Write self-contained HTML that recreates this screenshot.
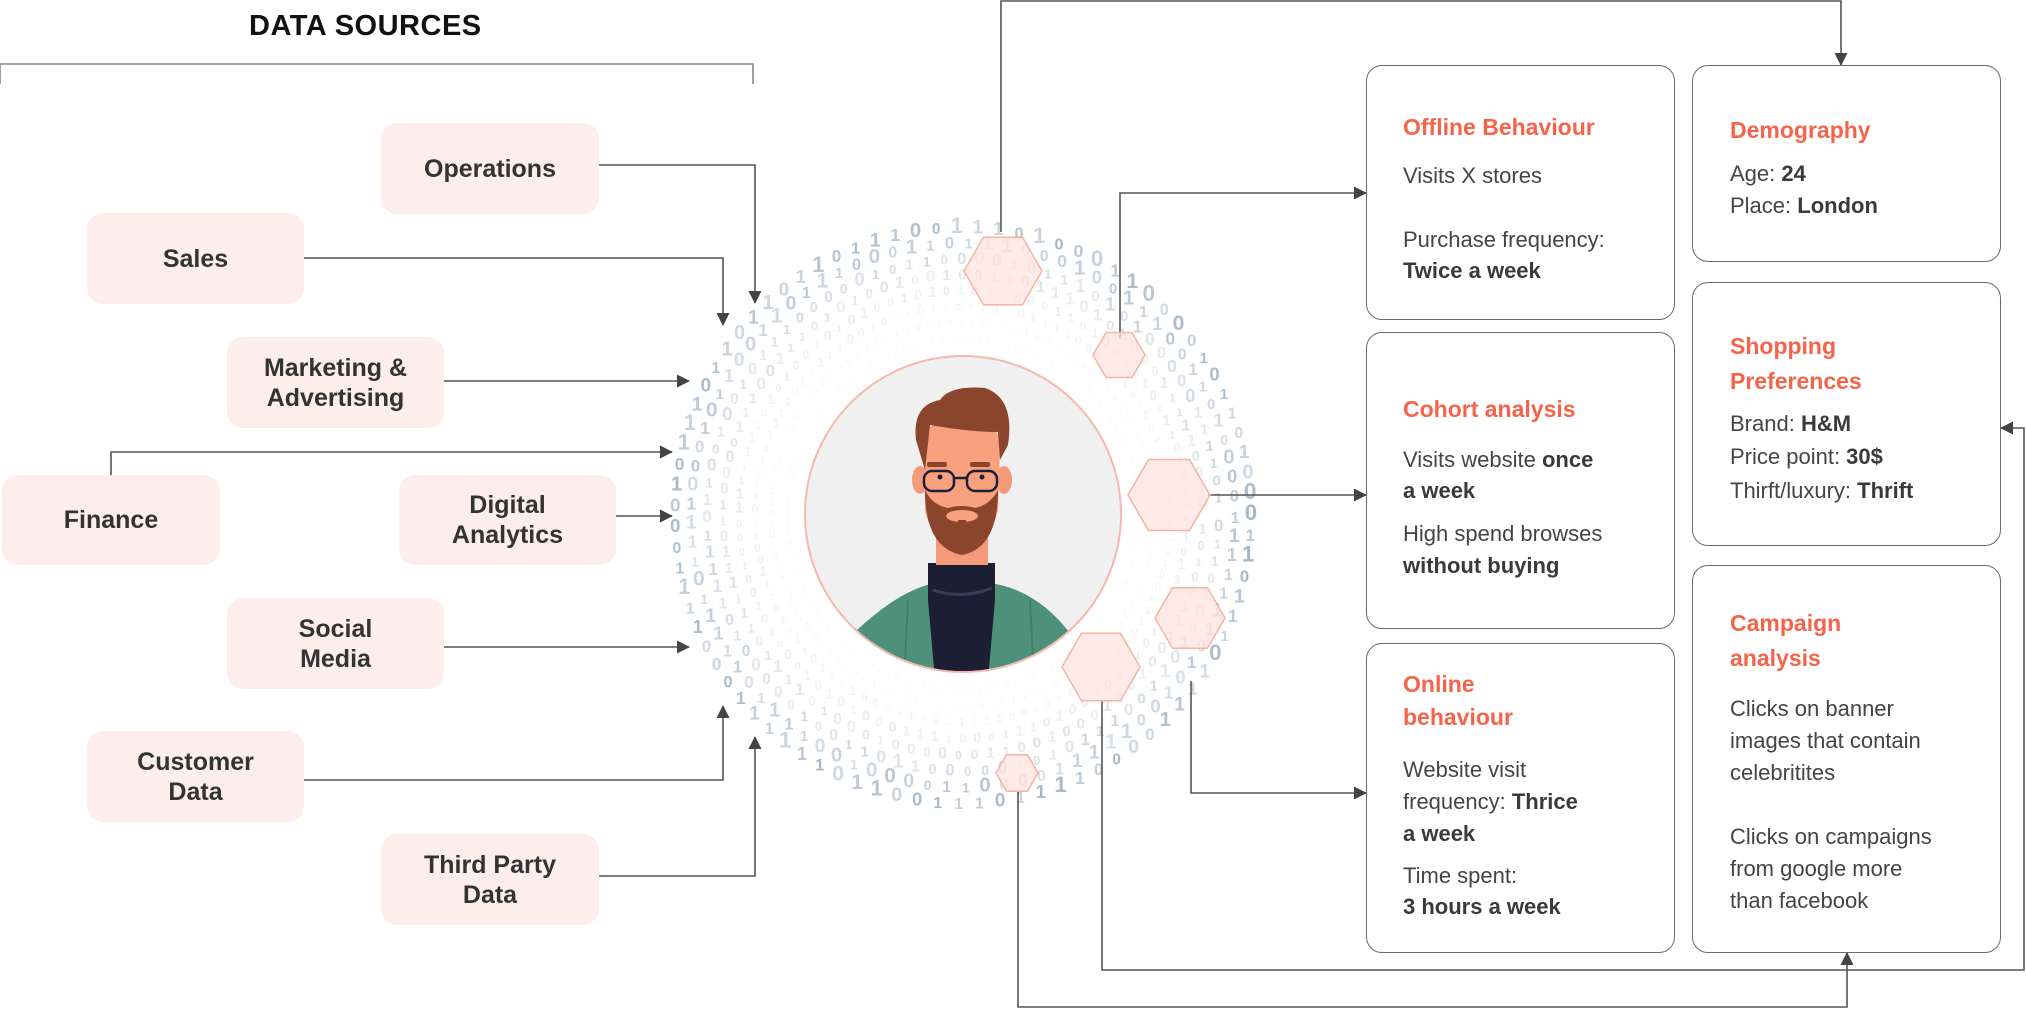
<!DOCTYPE html>
<html><head><meta charset="utf-8"><style>
html,body{margin:0;padding:0;background:#fff;}
body{width:2026px;height:1009px;position:relative;overflow:hidden;font-family:"Liberation Sans",sans-serif;}
.src{position:absolute;background:#fdeeec;border-radius:16px;display:flex;align-items:center;justify-content:center;text-align:center;font-weight:bold;font-size:25px;line-height:30px;color:#333;}
.card{position:absolute;border:1.5px solid #6a6a6a;border-radius:16px;box-sizing:border-box;background:#fff;}
.t{position:absolute;font-size:22px;color:#444;white-space:nowrap;}
.h{color:#f4634a;font-weight:bold;font-size:23px;}
b{color:#3a3a3a;}
svg{position:absolute;left:0;top:0;}
</style></head><body>
<svg width="2026" height="1009" id="bg">
<g id="ring"></g>
</svg>

<div style="position:absolute;left:249px;top:10px;font-weight:bold;font-size:29px;letter-spacing:0.5px;color:#111;">DATA SOURCES</div>

<div class="src" style="left:381px;top:123px;width:218px;height:91px;">Operations</div>
<div class="src" style="left:87px;top:213px;width:217px;height:91px;">Sales</div>
<div class="src" style="left:227px;top:337px;width:217px;height:91px;">Marketing &amp;<br>Advertising</div>
<div class="src" style="left:2px;top:475px;width:218px;height:90px;">Finance</div>
<div class="src" style="left:399px;top:475px;width:217px;height:90px;">Digital<br>Analytics</div>
<div class="src" style="left:227px;top:598px;width:217px;height:91px;">Social<br>Media</div>
<div class="src" style="left:87px;top:731px;width:217px;height:91px;">Customer<br>Data</div>
<div class="src" style="left:381px;top:834px;width:218px;height:91px;">Third Party<br>Data</div>

<svg width="2026" height="1009">
<defs>
<marker id="a" markerWidth="13" markerHeight="13" refX="12" refY="6.5" orient="auto" markerUnits="userSpaceOnUse"><path d="M0,0 L13,6.5 L0,13 z" fill="#444"/></marker>
<clipPath id="cc"><circle cx="963" cy="514" r="157"/></clipPath>
</defs>
<g fill="none" stroke="#555" stroke-width="1.6">
<polyline points="0,84 0,64 753,64 753,84" stroke="#888"/>
<polyline points="599,165 755,165 755,303" marker-end="url(#a)"/>
<polyline points="304,258 723,258 723,325" marker-end="url(#a)"/>
<polyline points="444,381 689,381" marker-end="url(#a)"/>
<polyline points="111,475 111,452 672,452" marker-end="url(#a)"/>
<polyline points="616,516 672,516" marker-end="url(#a)"/>
<polyline points="444,647 689,647" marker-end="url(#a)"/>
<polyline points="304,780 723,780 723,706" marker-end="url(#a)"/>
<polyline points="599,876 755,876 755,737" marker-end="url(#a)"/>
<polyline points="1001,232 1001,1 1841,1 1841,65" marker-end="url(#a)"/>
<polyline points="1120,338 1120,193 1366,193" marker-end="url(#a)"/>
<polyline points="1208,495 1366,495" marker-end="url(#a)"/>
<polyline points="1191,681 1191,793 1366,793" marker-end="url(#a)"/>
<polyline points="1102,701 1102,970 2024,970 2024,428 2001,428" marker-end="url(#a)"/>
<polyline points="1018,791 1018,1007 1847,1007 1847,953" marker-end="url(#a)"/>
</g>
<g fill="#fde3df" fill-opacity="0.75" stroke="#f7b3a6" stroke-width="1.5" id="hex"></g>
<circle cx="963" cy="514" r="158" fill="#f0f0f0" stroke="#f5b8ab" stroke-width="2"/>
<g clip-path="url(#cc)">
<path d="M857,630 Q900,590 935,583 L990,583 Q1040,590 1075,640 L1075,680 L857,680 z" fill="#4e917b"/>
<path d="M928,563 L995,563 L995,600 L988,680 L935,680 L928,600 z" fill="#1c1e33"/>
<path d="M933,590 Q962,600 992,588" stroke="#3a3d55" stroke-width="3" fill="none"/>
<path d="M908,600 L905,660 M1030,600 L1033,660" stroke="#3e7f69" stroke-width="2" fill="none"/>
<rect x="936" y="530" width="52" height="35" fill="#f49a7a"/>
<ellipse cx="920" cy="480" rx="8" ry="14" fill="#f49a7a"/>
<ellipse cx="1004" cy="480" rx="8" ry="14" fill="#f49a7a"/>
<path d="M924,440 Q925,420 960,418 Q1000,420 1000,445 L998,510 Q990,545 962,548 Q932,545 925,510 z" fill="#f9a07e"/>
<path d="M925,490 Q925,548 962,555 Q998,548 998,490 Q990,505 975,508 Q962,504 948,508 Q932,505 925,490 z" fill="#8b452c"/>
<ellipse cx="962" cy="516" rx="16" ry="6" fill="#f9a07e"/>
<rect x="958" y="520" width="8" height="12" fill="#8b452c"/>
<path d="M916,440 Q912,405 940,400 Q950,385 985,388 Q1015,398 1008,445 L1000,460 L998,432 Q970,432 930,425 L925,470 z" fill="#8b452c"/>
<rect x="927" y="462" width="20" height="5" rx="2" fill="#8b452c"/>
<rect x="970" y="462" width="20" height="5" rx="2" fill="#8b452c"/>
<g fill="none" stroke="#1c1e33" stroke-width="2.5">
<rect x="924" y="471" width="30" height="20" rx="8"/>
<rect x="967" y="471" width="30" height="20" rx="8"/>
<path d="M954,478 L967,478"/>
</g>
<circle cx="940" cy="477" r="2.5" fill="#1c1e33"/><circle cx="982" cy="477" r="2.5" fill="#1c1e33"/>
</g>
</svg>

<div class="card" style="left:1366px;top:65px;width:309px;height:255px;"></div>
<div class="card" style="left:1692px;top:65px;width:309px;height:197px;"></div>
<div class="card" style="left:1366px;top:332px;width:309px;height:297px;"></div>
<div class="card" style="left:1692px;top:282px;width:309px;height:264px;"></div>
<div class="card" style="left:1366px;top:643px;width:309px;height:310px;"></div>
<div class="card" style="left:1692px;top:565px;width:309px;height:388px;"></div>

<div class="t h" style="left:1403px;top:114px;">Offline Behaviour</div>
<div class="t" style="left:1403px;top:163px;">Visits X stores</div>
<div class="t" style="left:1403px;top:227px;">Purchase frequency:</div>
<div class="t" style="left:1403px;top:258px;"><b>Twice a week</b></div>

<div class="t h" style="left:1730px;top:117px;">Demography</div>
<div class="t" style="left:1730px;top:161px;">Age: <b>24</b></div>
<div class="t" style="left:1730px;top:193px;">Place: <b>London</b></div>

<div class="t h" style="left:1403px;top:396px;">Cohort analysis</div>
<div class="t" style="left:1403px;top:447px;">Visits website <b>once</b></div>
<div class="t" style="left:1403px;top:478px;"><b>a week</b></div>
<div class="t" style="left:1403px;top:521px;">High spend browses</div>
<div class="t" style="left:1403px;top:553px;"><b>without buying</b></div>

<div class="t h" style="left:1730px;top:333px;">Shopping</div>
<div class="t h" style="left:1730px;top:368px;">Preferences</div>
<div class="t" style="left:1730px;top:411px;">Brand: <b>H&amp;M</b></div>
<div class="t" style="left:1730px;top:444px;">Price point: <b>30$</b></div>
<div class="t" style="left:1730px;top:478px;">Thirft/luxury: <b>Thrift</b></div>

<div class="t h" style="left:1403px;top:671px;">Online</div>
<div class="t h" style="left:1403px;top:704px;">behaviour</div>
<div class="t" style="left:1403px;top:757px;">Website visit</div>
<div class="t" style="left:1403px;top:789px;">frequency: <b>Thrice</b></div>
<div class="t" style="left:1403px;top:821px;"><b>a week</b></div>
<div class="t" style="left:1403px;top:863px;">Time spent:</div>
<div class="t" style="left:1403px;top:894px;"><b>3 hours a week</b></div>

<div class="t h" style="left:1730px;top:610px;">Campaign</div>
<div class="t h" style="left:1730px;top:645px;">analysis</div>
<div class="t" style="left:1730px;top:696px;">Clicks on banner</div>
<div class="t" style="left:1730px;top:728px;">images that contain</div>
<div class="t" style="left:1730px;top:760px;">celebritites</div>
<div class="t" style="left:1730px;top:824px;">Clicks on campaigns</div>
<div class="t" style="left:1730px;top:856px;">from google more</div>
<div class="t" style="left:1730px;top:888px;">than facebook</div>

<script>
(function(){
var ns="http://www.w3.org/2000/svg";
var g=document.getElementById("ring");
var cx=963,cy=514,seed=7;
function rnd(){seed=(seed*9301+49297)%233280;return seed/233280;}
for(var r=176;r<=290;r+=16){
  var k=(r-176)/114;
  var fs=9+k*11;
  var op=0.06+Math.pow(k,1.8)*0.75;
  var step=fs*1.05/r;
  var off=rnd()*step;
  for(var a=off;a<Math.PI*2;a+=step){
    var x=cx+r*Math.cos(a),y=cy+r*Math.sin(a)+fs*0.35;
    var t=document.createElementNS(ns,"text");
    t.setAttribute("x",x.toFixed(1));t.setAttribute("y",y.toFixed(1));
    t.setAttribute("font-size",(fs*(0.75+rnd()*0.4)).toFixed(1));
    t.setAttribute("font-family","Liberation Sans, sans-serif");
    t.setAttribute("font-weight","bold");
    t.setAttribute("fill","#8da2b6");
    t.setAttribute("fill-opacity",(op*(0.5+rnd()*0.5)).toFixed(2));
    t.setAttribute("text-anchor","middle");
    t.textContent=rnd()<0.5?"0":"1";
    g.appendChild(t);
  }
}
var hx=document.getElementById("hex");
[[1003,271,39],[1119,355,26],[1169,495,41],[1190,618,35],[1101,667,39],[1017,773,21]].forEach(function(h){
  var p=[];for(var i=0;i<6;i++){var an=Math.PI/3*i;p.push((h[0]+h[2]*Math.cos(an)).toFixed(1)+","+(h[1]+h[2]*Math.sin(an)).toFixed(1));}
  var e=document.createElementNS(ns,"polygon");e.setAttribute("points",p.join(" "));hx.appendChild(e);
});
})();
</script>
</body></html>
